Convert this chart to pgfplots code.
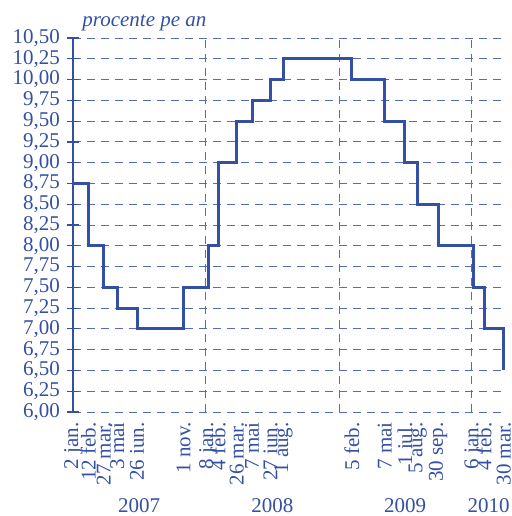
\documentclass[border=0pt]{standalone}
\usepackage{pgfplots}
\pgfplotsset{compat=1.18}
\usepackage{fontspec}
\setmainfont{Liberation Serif}
\usetikzlibrary{calc}
\definecolor{bnr}{RGB}{52,80,164}
\definecolor{gridc}{RGB}{86,108,180}

\begin{document}
\begin{tikzpicture}
\begin{axis}[
  name=ax,
  scale only axis,
  width=216pt, height=187pt,
  xmin=0, xmax=1187,
  ymin=6, ymax=10.5,
  clip=false,
  axis lines*=left,
  x axis line style={draw=none},
  y axis line style={bnr, line width=0.6pt},
  ytick={6,6.25,6.5,6.75,7,7.25,7.5,7.75,8,8.25,8.5,8.75,9,9.25,9.5,9.75,10,10.25,10.5},
  yticklabel style={/pgf/number format/.cd, fixed, fixed zerofill, precision=2, use comma, assume math mode=true},
  ymajorgrids=true,
  tick align=center,
  major tick length=6pt,
  ytick style={bnr, line width=0.6pt},
  xtick style={draw=none},
  major grid style={gridc, line width=0.5pt, dash pattern=on 4pt off 3pt},
  xtick={1,42,85,122,176,304,372,399,450,492,543,578,766,857,912,947,1003,1101,1130,1184},
  xticklabels={2 jan., 12 feb., 27 mar., 3 mai, 26 iun., 1 nov., 8 jan., 4 feb., 26 mar., 7 mai, 27 iun., 1 aug., 5 feb., 7 mai, 1 iul., 5 aug., 30 sep., 6 jan., 4 feb., 30 mar.},
  xticklabel style={rotate=90, anchor=east, inner sep=2pt},
  extra x ticks={365,731,1096},
  extra x tick labels={},
  extra x tick style={xmajorgrids=true, ymajorgrids=false},
  ticklabel style={font=\fontsize{10.5}{12}\selectfont, text=bnr},
]
\addplot[const plot mark left, bnr, line width=1.5pt] coordinates {
  (1,8.75) (42,8.00) (85,7.50) (122,7.25) (176,7.00) (304,7.50)
  (372,8.00) (399,9.00) (450,9.50) (492,9.75) (543,10.00) (578,10.25)
  (766,10.00) (857,9.50) (912,9.00) (947,8.50) (1003,8.00)
  (1101,7.50) (1130,7.00) (1184,6.50)
};
\coordinate (bl) at (rel axis cs:0,0);
\node[text=bnr, font=\fontsize{10.5}{12}\selectfont\itshape, anchor=base west, inner sep=0pt] at ($(rel axis cs:0,1)+(4.5pt,6pt)$) {procente pe an};
\end{axis}
\begin{scope}[every node/.style={text=bnr, font=\fontsize{10.5}{12}\selectfont, anchor=base, inner sep=0pt}]
\node at ($(bl)+(33.1pt,-50pt)$) {2007};
\node at ($(bl)+(99.7pt,-50pt)$) {2008};
\node at ($(bl)+(166.1pt,-50pt)$) {2009};
\node at ($(bl)+(207.8pt,-50pt)$) {2010};
\end{scope}
\pgfresetboundingbox
\path ($(bl)+(-36.5pt,-52pt)$) rectangle ($(bl)+(219.5pt,206pt)$);
\end{tikzpicture}
\end{document}
